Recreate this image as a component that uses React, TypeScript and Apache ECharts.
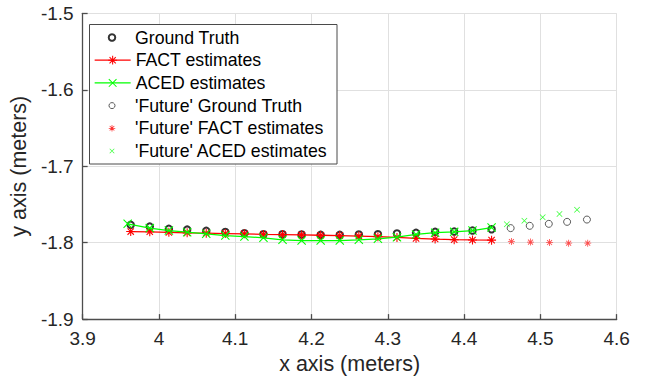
import React, { useEffect, useRef } from "react";
import * as echarts from "echarts";

const FONT = "'Liberation Sans', Arial, Helvetica, sans-serif";

// x tick labels / y tick labels are generated by the value axes
const xMin = 3.9, xMax = 4.6, xStep = 0.1;
const yMin = -1.9, yMax = -1.5, yStep = 0.1;

const gtX = [3.963, 3.988, 4.013, 4.037, 4.062, 4.087, 4.112, 4.137, 4.162, 4.187, 4.212, 4.237, 4.262, 4.287, 4.312, 4.337, 4.362, 4.387, 4.411, 4.436];
const gtY = [-1.7767, -1.779, -1.782, -1.783, -1.7846, -1.786, -1.7876, -1.789, -1.789, -1.7894, -1.7898, -1.7898, -1.7894, -1.789, -1.788, -1.7872, -1.7859, -1.7855, -1.7842, -1.7824];

const factX = gtX;
const factY = [-1.7855, -1.7858, -1.7865, -1.7872, -1.7876, -1.7881, -1.7885, -1.7892, -1.7895, -1.7899, -1.7903, -1.7908, -1.7914, -1.7922, -1.7932, -1.7944, -1.7953, -1.7961, -1.7965, -1.7967];

const acedX = [3.959, 3.988, 4.013, 4.037, 4.062, 4.087, 4.112, 4.137, 4.162, 4.187, 4.212, 4.237, 4.262, 4.287, 4.312, 4.337, 4.362, 4.387, 4.411, 4.436];
const acedY = [-1.7754, -1.781, -1.7842, -1.7863, -1.7885, -1.7907, -1.792, -1.7937, -1.7963, -1.7973, -1.7973, -1.7973, -1.7963, -1.795, -1.7928, -1.7892, -1.7869, -1.7859, -1.7842, -1.7803];

const futGtX = [4.461, 4.486, 4.511, 4.535, 4.561];
const futGtY = [-1.781, -1.778, -1.7754, -1.7728, -1.7698];

const futFactX = [4.462, 4.487, 4.512, 4.537, 4.562];
const futFactY = [-1.7986, -1.7993, -1.7999, -1.8007, -1.8007];

const futAcedX = [4.456, 4.479, 4.503, 4.525, 4.548];
const futAcedY = [-1.7758, -1.7715, -1.7667, -1.7624, -1.7571];

const names = [
  "Ground Truth",
  "FACT estimates",
  "ACED estimates",
  "'Future' Ground Truth",
  "'Future' FACT estimates",
  "'Future' ACED estimates",
];

const ASTERISK =
  "path://M0,8.8H20V11.2H0Z M8.8,0H11.2V20H8.8Z M2.08,3.78L3.78,2.08L17.92,16.22L16.22,17.92Z M16.22,2.08L17.92,3.78L3.78,17.92L2.08,16.22Z";
const XMARK =
  "path://M0,1.7L1.7,0L20,18.3L18.3,20Z M18.3,0L20,1.7L1.7,20L0,18.3Z";

const zip = (xs: number[], ys: number[]) => xs.map((x, i) => [x, ys[i]]);

export default function App() {
  const ref = useRef<HTMLDivElement>(null);
  useEffect(() => {
    if (!ref.current) return;
    const chart = echarts.init(ref.current, null, { renderer: "svg" });
    const rowCenters = [37.5, 60.2, 82.9, 105.6, 128.3, 151.0];
    const ICON_LEFT = 94;
    const ICON_W = 36;
    const legendSpecs: any[] = [
      { h: 6.5, stroke: 2, icon: "circle", itemStyle: { color: "#fff", borderColor: "#000", borderWidth: 2 } },
      { h: 11, full: true, itemStyle: { color: "#ff0000", borderWidth: 0 }, lineStyle: { color: "#ff0000", width: 1.3 } },
      { h: 10.5, full: true, itemStyle: { color: "#00ff00", borderWidth: 0 }, lineStyle: { color: "#00ff00", width: 1.3 } },
      { h: 6, stroke: 1, icon: "circle", itemStyle: { color: "#fff", borderColor: "#333", borderWidth: 1 } },
      { h: 6.5, stroke: 0, icon: ASTERISK, itemStyle: { color: "#ff0000", borderWidth: 0 } },
      { h: 5, stroke: 0, icon: XMARK, itemStyle: { color: "#00ff00", borderWidth: 0 } },
    ];
    const legends = legendSpecs.map((s, i) => {
      const shift = s.full ? 0 : (ICON_W - s.h) / 2 - s.stroke / 2;
      const l: any = {
        data: [names[i]],
        orient: "vertical",
        left: ICON_LEFT + shift,
        top: rowCenters[i] - 9,
        itemWidth: ICON_W,
        itemHeight: s.h,
        padding: 0,
        itemGap: 0,
        selectedMode: false,
        z: 6,
        textStyle: { fontSize: 17.7, lineHeight: 18, color: "#000", fontFamily: FONT },
        itemStyle: s.itemStyle,
      };
      if (s.icon) l.icon = s.icon;
      if (s.lineStyle) l.lineStyle = s.lineStyle;
      return l;
    });

    const axisCommon = {
      type: "value",
      axisLine: { show: true, onZero: false, lineStyle: { color: "#4d4d4d", width: 1.3 } },
      axisTick: { show: true, inside: true, length: 5, lineStyle: { color: "#4d4d4d", width: 1.3 } },
      splitLine: { show: true, lineStyle: { color: "#e0e0e0", width: 1 } },
      nameLocation: "middle",
      nameTextStyle: { fontSize: 21.5, color: "#262626", fontFamily: FONT },
    };

    chart.setOption({
      animation: false,
      backgroundColor: "#fff",
      grid: { left: 80, right: 29.3, top: 13.3, bottom: 60.7, containLabel: false },
      xAxis: {
        ...axisCommon,
        min: xMin,
        max: xMax,
        interval: xStep,
        name: "x axis (meters)",
        nameGap: 33,
        axisLabel: { fontSize: 19, color: "#262626", fontFamily: FONT, margin: 10 },
      },
      yAxis: {
        ...axisCommon,
        min: yMin,
        max: yMax,
        interval: yStep,
        name: "y axis (meters)",
        nameGap: 42,
        axisLabel: { fontSize: 19, color: "#262626", fontFamily: FONT, margin: 9, formatter: (v: number) => v.toFixed(1) },
      },
      legend: legends,
      graphic: [
        {
          type: "rect",
          z: 5,
          shape: { x: 89.5, y: 24.5, width: 247.5, height: 139.5 },
          style: { fill: "#fff", stroke: "#4a4a4a", lineWidth: 1 },
          silent: true,
        },
      ],
      series: [
        {
          name: names[0],
          type: "scatter",
          data: zip(gtX, gtY),
          symbol: "circle",
          symbolSize: 6.5,
          itemStyle: { color: "rgba(0,0,0,0)", borderColor: "#000", borderWidth: 2 },
          z: 2,
        },
        {
          name: names[1],
          type: "line",
          data: zip(factX, factY),
          symbol: ASTERISK,
          symbolSize: 9,
          showSymbol: true,
          lineStyle: { color: "#ff0000", width: 1.3 },
          itemStyle: { color: "#ff0000" },
          z: 3,
        },
        {
          name: names[2],
          type: "line",
          data: zip(acedX, acedY),
          symbol: XMARK,
          symbolSize: 9,
          showSymbol: true,
          lineStyle: { color: "#00ff00", width: 1.3 },
          itemStyle: { color: "#00ff00" },
          z: 4,
        },
        {
          name: names[3],
          type: "scatter",
          data: zip(futGtX, futGtY),
          symbol: "circle",
          symbolSize: 7,
          itemStyle: { color: "rgba(0,0,0,0)", borderColor: "#333", borderWidth: 1 },
          z: 2,
        },
        {
          name: names[4],
          type: "scatter",
          data: zip(futFactX, futFactY),
          symbol: ASTERISK,
          symbolSize: 7,
          itemStyle: { color: "#ff2020" },
          z: 3,
        },
        {
          name: names[5],
          type: "scatter",
          data: zip(futAcedX, futAcedY),
          symbol: XMARK,
          symbolSize: 6,
          itemStyle: { color: "#00ff00" },
          z: 4,
        },
      ],
    });
    return () => chart.dispose();
  }, []);
  return (
    <div
      ref={ref}
      style={{ position: "fixed", left: 0, top: 0, width: 646, height: 380, background: "#fff" }}
    />
  );
}
